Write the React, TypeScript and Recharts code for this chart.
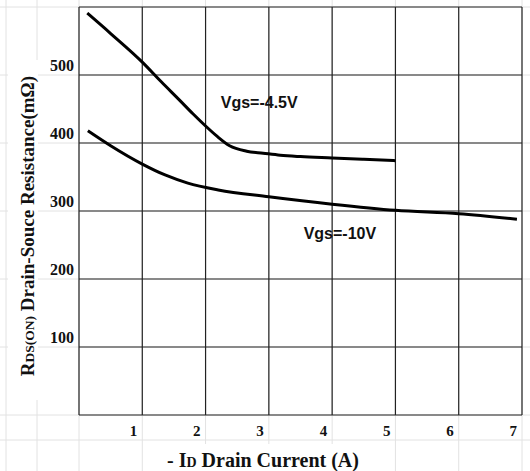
import React from "react";
import { LineChart, Line, XAxis, YAxis, CartesianGrid, ReferenceDot } from "recharts";

// -4.5V curve (A, mOhm)
const currentA45 = [0.13, 0.5, 1.0, 1.3, 1.6, 1.8, 2.0, 2.18, 2.38, 2.65, 2.91, 3.18, 3.5, 4.0, 4.5, 5.0];
const rds45 = [591, 561, 519, 490, 462, 443, 425, 410, 396, 388, 385, 382, 380, 378, 376, 374];

// -10V curve
const currentA10 = [0.14, 0.5, 1.0, 1.36, 1.72, 2.2, 3.0, 4.0, 5.0, 6.0, 6.92];
const rds10 = [418, 396, 369, 353, 341, 331, 321, 310, 301, 296, 288];

const xTicks = [0, 1, 2, 3, 4, 5, 6, 7];
const yTicks = [0, 100, 200, 300, 400, 500, 600];

const W = 530;
const H = 471;
const PLOT_LEFT = 79;
const PLOT_RIGHT = 522;
const PLOT_TOP = 7;
const PLOT_BOTTOM = 415;

const serif = '"Liberation Serif", "Times New Roman", serif';
const sans = '"Liberation Sans", Arial, sans-serif';

const data45 = currentA45.map((x, i) => ({ x, y: rds45[i] }));
const data10 = currentA10.map((x, i) => ({ x, y: rds10[i] }));

function XTick(props: any) {
  const { x, payload } = props;
  if (payload.value === 0) return <g />;
  return (
    <text x={x - 5} y={PLOT_BOTTOM + 21} textAnchor="end" fontFamily={serif} fontWeight="bold" fontSize={15} fill="#111">
      {payload.value}
    </text>
  );
}

function YTick(props: any) {
  const { y, payload } = props;
  if (payload.value === 0 || payload.value === 600) return <g />;
  return (
    <text x={PLOT_LEFT - 5} y={y - 4} textAnchor="end" fontFamily={serif} fontWeight="bold" fontSize={16} fill="#111">
      {payload.value}
    </text>
  );
}

function CurveLabel(text: string) {
  return (p: any) => (
    <text x={p.cx} y={p.cy} fontFamily={sans} fontWeight="bold" fontSize={16} fill="#111">
      {text}
    </text>
  );
}

// faint spreadsheet cell lines behind the chart
function SheetLines() {
  const colW = (PLOT_RIGHT - PLOT_LEFT) / 7;
  const rowH = (PLOT_BOTTOM - PLOT_TOP) / 6;
  const cols = [6, 37, ...xTicks.map((t) => PLOT_LEFT + t * colW)];
  const rows = [...yTicks.map((t, i) => PLOT_TOP + i * rowH), PLOT_BOTTOM + 25];
  return (
    <svg width={W} height={H} style={{ position: "absolute", left: 0, top: 0 }}>
      {cols.map((c) => (
        <line key={"c" + c} x1={c} x2={c} y1={0} y2={H} stroke="#e2e2e2" />
      ))}
      {rows.map((r) => (
        <line key={"r" + r} x1={0} x2={W} y1={r} y2={r} stroke="#e2e2e2" />
      ))}
    </svg>
  );
}

export default function App() {
  return (
    <div style={{ position: "absolute", left: 0, top: 0, width: W, height: H, background: "#fff" }}>
      <SheetLines />
      <div style={{ position: "absolute", left: 0, top: 0 }}>
        <LineChart width={W} height={H} margin={{ top: PLOT_TOP, right: W - PLOT_RIGHT, left: 0, bottom: 0 }}>
          <CartesianGrid stroke="#222" strokeWidth={1.2} />
          <XAxis
            type="number"
            dataKey="x"
            domain={[0, 7]}
            ticks={xTicks}
            axisLine={false}
            tickLine={false}
            tick={<XTick />}
            height={H - PLOT_BOTTOM}
            allowDuplicatedCategory={false}
          />
          <YAxis
            type="number"
            domain={[0, 600]}
            ticks={yTicks}
            axisLine={false}
            tickLine={false}
            tick={<YTick />}
            width={PLOT_LEFT}
          />
          <Line data={data45} dataKey="y" type="monotone" stroke="#000" strokeWidth={3} dot={false} isAnimationActive={false} />
          <Line data={data10} dataKey="y" type="monotone" stroke="#000" strokeWidth={3} dot={false} isAnimationActive={false} />
          <ReferenceDot x={2.24} y={451} r={0} shape={CurveLabel("Vgs=-4.5V")} />
          <ReferenceDot x={3.55} y={259} r={0} shape={CurveLabel("Vgs=-10V")} />
        </LineChart>
      </div>
      <svg width={W} height={H} style={{ position: "absolute", left: 0, top: 0, pointerEvents: "none" }}>
        <rect x={8} y={60} width={30} height={340} fill="#fff" />
        <text
          x={34}
          y={226}
          transform="rotate(-90 34 226)"
          textAnchor="middle"
          fontFamily={serif}
          fontWeight="bold"
          fontSize={19}
          fill="#111"
        >
          R<tspan fontSize={13.5}>DS(ON)</tspan> Drain-Souce Resistance(mΩ)
        </text>
        <rect x={150} y={444} width={230} height={27} fill="#fff" />
        <text x={263} y={467} textAnchor="middle" fontFamily={serif} fontWeight="bold" fontSize={20} fill="#111">
          - I<tspan fontSize={14}>D</tspan> Drain Current (A)
        </text>
      </svg>
    </div>
  );
}
